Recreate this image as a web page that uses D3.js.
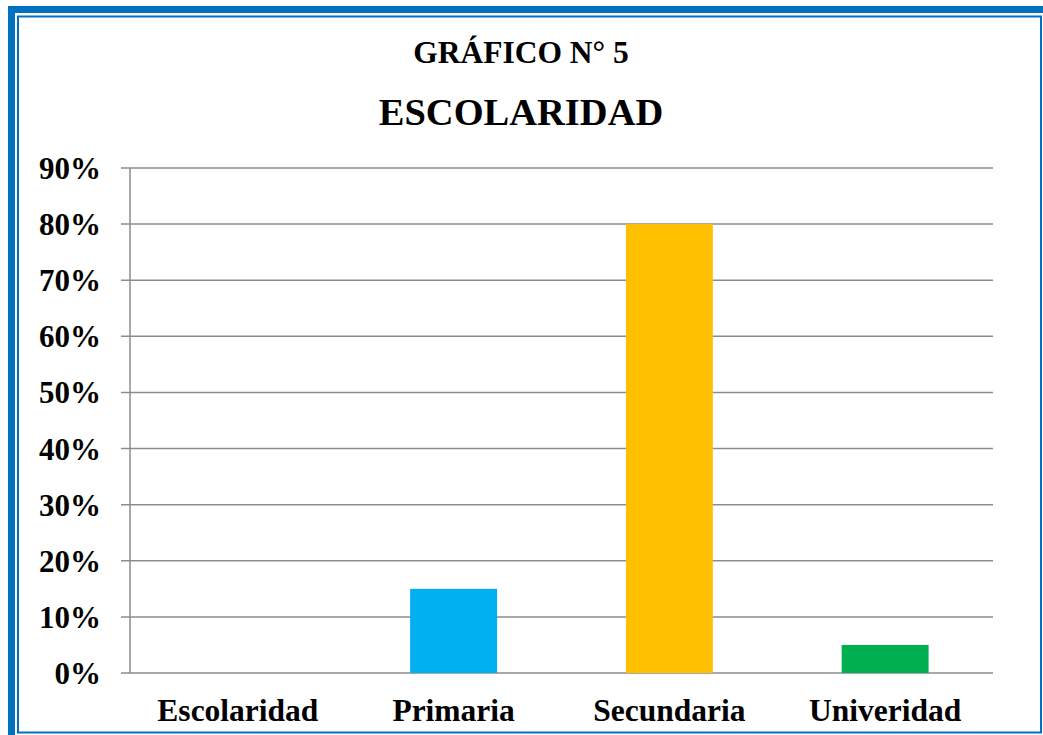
<!DOCTYPE html>
<meta charset="UTF-8">
<style>
body { margin: 0; background: #fff; }
text { font-family: "Liberation Serif", "Times New Roman", serif; font-weight: bold; fill: #000; }
</style>
<body>
<script src="https://cdn.jsdelivr.net/npm/d3@7"></script>
<script>
var categories = ["Escolaridad", "Primaria", "Secundaria", "Univeridad"];
var values = [0, 0.15, 0.80, 0.05];
var colors = ["#00B0F0", "#00B0F0", "#FFC000", "#00B050"];
var yTicks = [0, 0.1, 0.2, 0.3, 0.4, 0.5, 0.6, 0.7, 0.8, 0.9];

var W = 1043, H = 735;
var svg = d3.select("body").append("svg").attr("width", W).attr("height", H);

// frame
svg.append("rect").attr("x", 0).attr("y", 0).attr("width", W).attr("height", H).attr("fill", "#fff");
svg.append("path").attr("d", "M11.5," + H + " V9.5 H" + W)
    .attr("fill", "none").attr("stroke", "#0070C0").attr("stroke-width", 7);
svg.append("rect").attr("x", 18).attr("y", 16.5).attr("width", 1023).attr("height", 716)
    .attr("fill", "none").attr("stroke", "#0070C0").attr("stroke-width", 2);

// titles
svg.append("text").attr("x", 521).attr("y", 63).attr("text-anchor", "middle")
    .style("font-size", "31.5px").text("GRÁFICO N° 5");
svg.append("text").attr("x", 521).attr("y", 125).attr("text-anchor", "middle")
    .style("font-size", "38.5px").text("ESCOLARIDAD");

var margin = {left: 130, right: 993, top: 168, bottom: 673};
var x = d3.scaleBand().domain(categories).range([margin.left, margin.right])
    .paddingInner(0.597).paddingOuter(0.2985);
var y = d3.scaleLinear().domain([0, 0.9]).range([margin.bottom, margin.top]);

// gridlines
svg.append("g").selectAll("line").data(yTicks).join("line")
    .attr("x1", 121).attr("x2", margin.right)
    .attr("y1", function(d) { return y(d); }).attr("y2", function(d) { return y(d); })
    .attr("stroke", "#8c8c8c").attr("stroke-width", 1.5);

// y axis line
svg.append("line").attr("x1", margin.left).attr("x2", margin.left)
    .attr("y1", margin.top).attr("y2", margin.bottom)
    .attr("stroke", "#8c8c8c").attr("stroke-width", 1.5);

// y labels
svg.append("g").selectAll("text").data(yTicks).join("text")
    .attr("x", 101).attr("y", function(d) { return y(d) + 11; })
    .attr("text-anchor", "end").style("font-size", "31px")
    .text(function(d) { return d3.format(".0%")(d); });

// bars
svg.append("g").selectAll("rect").data(values).join("rect")
    .attr("x", function(d, i) { return x(categories[i]); })
    .attr("width", x.bandwidth())
    .attr("y", function(d) { return y(d); })
    .attr("height", function(d) { return y(0) - y(d); })
    .attr("fill", function(d, i) { return colors[i]; });

// x labels
svg.append("g").selectAll("text").data(categories).join("text")
    .attr("x", function(d) { return x(d) + x.bandwidth() / 2; })
    .attr("y", 721).attr("text-anchor", "middle").style("font-size", "31.5px")
    .text(function(d) { return d; });
</script>
</body>
